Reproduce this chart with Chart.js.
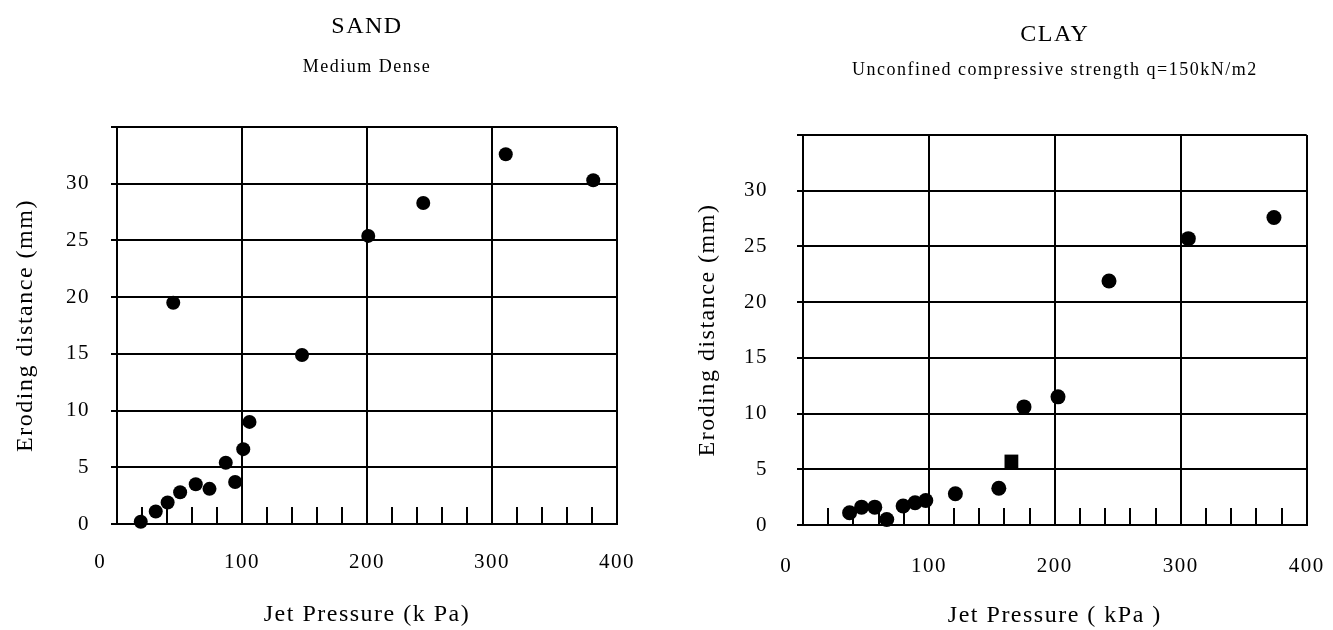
<!DOCTYPE html>
<html>
<head>
<meta charset="utf-8">
<script src="https://cdn.jsdelivr.net/npm/chart.js@4.4.1/dist/chart.umd.min.js"></script>
<style>
  html, body { margin: 0; padding: 0; background: #fff; }
  body { width: 1333px; height: 630px; position: relative; overflow: hidden; }
  canvas { position: absolute; top: 0; }
  #sand { left: 0; }
  #clay { left: 666px; }
</style>
</head>
<body>
<canvas id="sand" width="666" height="630"></canvas>
<canvas id="clay" width="667" height="630"></canvas>
<script>
// values
const SAND_PRESSURE = [19, 31, 40.5, 45, 50.5, 63, 74, 87, 94.5, 101, 106, 148, 201, 245, 311, 381]
const SAND_EROSION = [0.2, 1.1, 1.9, 19.5, 2.8, 3.5, 3.1, 5.4, 3.7, 6.6, 9.0, 14.9, 25.4, 28.3, 32.6, 30.3]

const CLAY_PRESSURE = [37, 46.5, 57, 66.5, 79.5, 89, 97.5, 121, 155.5, 165.5, 175.5, 202.5, 243, 306, 374]
const CLAY_EROSION = [1.1, 1.6, 1.6, 0.5, 1.7, 2.0, 2.2, 2.8, 3.3, 5.7, 10.6, 11.5, 21.9, 25.7, 27.6]

const X_TICK_LABELS = [0, 100, 200, 300, 400]
const Y_TICK_LABELS = [0, 5, 10, 15, 20, 25, 30]

Chart.defaults.font.family = '"Liberation Serif", "Times New Roman", serif'
Chart.defaults.color = '#000'

// the scan uses loosely spaced lettering
const letterSpacing = {
  id: 'letterSpacing',
  beforeLayout (chart) { chart.ctx.letterSpacing = '1.5px' },
  beforeDraw (chart) { chart.ctx.letterSpacing = '1.5px' }
}

function xLabel (value) {
  if (!X_TICK_LABELS.includes(value)) return ''
  // the "0" sits left of the axis in the original
  return value === 0 ? '0     ' : String(value)
}

function renderPanel (canvas, panel) {
  const { box } = panel
  const points = panel.xs.map((x, i) => ({ x, y: panel.ys[i] }))
  const squares = panel.squares || []

  return new Chart(canvas.getContext('2d'), {
    type: 'scatter',
    data: {
      datasets: [{
        data: points,
        backgroundColor: '#000',
        borderColor: '#000',
        borderWidth: 0,
        pointStyle: (ctx) => squares.includes(ctx.dataIndex) ? 'rect' : 'circle',
        pointRadius: (ctx) => squares.includes(ctx.dataIndex) ? box.dot * 1.3 : box.dot,
        pointHoverRadius: box.dot,
        clip: false
      }]
    },
    options: {
      responsive: false,
      animation: false,
      events: [],
      layout: { padding: { left: 0, right: box.right, top: 0, bottom: 0 } },
      plugins: {
        legend: { display: false },
        tooltip: { enabled: false },
        title: {
          display: true,
          text: panel.title,
          fullSize: false,
          color: '#000',
          font: { size: 24, weight: 'normal' },
          padding: { top: box.titleTop, bottom: 0 }
        },
        subtitle: {
          display: true,
          text: panel.subtitle,
          fullSize: false,
          color: '#000',
          font: { size: 18 },
          padding: { top: box.subGap, bottom: box.subBottom }
        }
      },
      scales: {
        x: {
          type: 'linear',
          min: 0,
          max: 400,
          afterFit: (scale) => {
            scale.height = box.xHeight
            // tick padding would otherwise be added to the side margins
            scale.paddingLeft = 0
            scale.paddingRight = 0
          },
          ticks: {
            stepSize: 20,
            autoSkip: false,
            maxRotation: 0,
            padding: box.xPad,
            color: '#000',
            font: { size: 21 },
            callback: xLabel
          },
          grid: {
            color: (ctx) => X_TICK_LABELS.includes(ctx.tick && ctx.tick.value) ? '#000' : 'rgba(0,0,0,0)',
            tickColor: '#000',
            lineWidth: 2,
            tickWidth: 2,
            tickLength: -17
          },
          border: { color: '#000', width: 2 },
          title: {
            display: true,
            text: panel.xTitle,
            color: '#000',
            font: { size: 24 },
            padding: { top: 0, bottom: box.xTitlePad }
          }
        },
        y: {
          min: 0,
          max: 35,
          afterFit: (scale) => { scale.width = box.yWidth },
          ticks: {
            stepSize: 5,
            padding: box.yPad,
            color: '#000',
            font: { size: 21 },
            callback: (v) => Y_TICK_LABELS.includes(v) ? String(v) : ''
          },
          grid: { color: '#000', lineWidth: 2, tickLength: 6 },
          border: { color: '#000', width: 2 },
          title: {
            display: true,
            text: 'Eroding distance (mm)',
            color: '#000',
            font: { size: 24 },
            padding: { top: box.yTitlePad, bottom: 0 }
          }
        }
      }
    },
    plugins: [letterSpacing]
  })
}

renderPanel(document.getElementById('sand'), {
  title: 'SAND',
  subtitle: 'Medium Dense',
  xTitle: 'Jet Pressure (k Pa)',
  xs: SAND_PRESSURE,
  ys: SAND_EROSION,
  box: {
    right: 49, yWidth: 117, xHeight: 106,
    titleTop: 12, subGap: 15.8, subBottom: 48.8,
    xPad: 43, xTitlePad: 1, yPad: 21, yTitlePad: 11, dot: 7
  }
})

renderPanel(document.getElementById('clay'), {
  title: 'CLAY',
  subtitle: 'Unconfined compressive strength q=150kN/m2',
  xTitle: 'Jet Pressure ( kPa )',
  xs: CLAY_PRESSURE,
  ys: CLAY_EROSION,
  squares: [9],
  box: {
    right: 26.3, yWidth: 137, xHeight: 105,
    titleTop: 20, subGap: 10.6, subBottom: 54,
    xPad: 46, xTitlePad: 0, yPad: 29, yTitlePad: 27, dot: 7.5
  }
})
</script>
</body>
</html>
